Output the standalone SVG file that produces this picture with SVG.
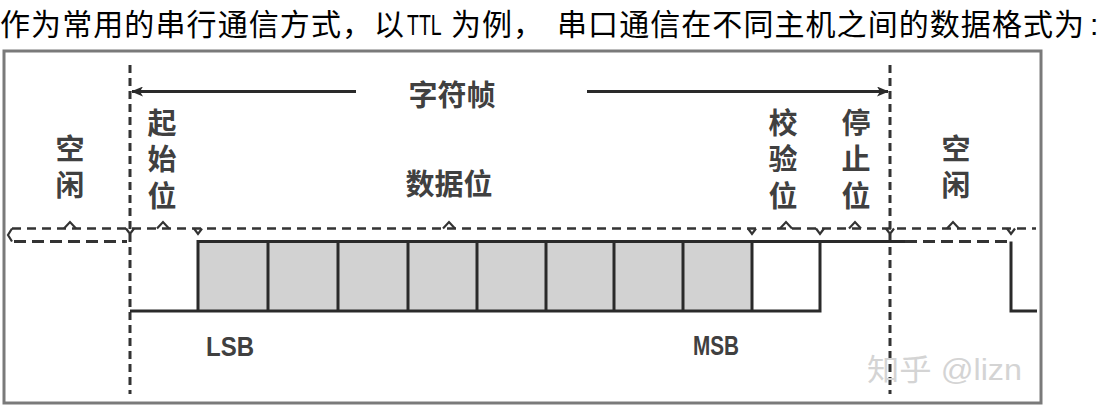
<svg xmlns="http://www.w3.org/2000/svg" width="1104" height="407" viewBox="0 0 1104 407">
  <style>
    .title { font-family: "Liberation Sans", "Noto Sans CJK SC", sans-serif; font-size: 30px; fill: #000; }
    .lbl { font-family: "Liberation Sans", "Noto Sans CJK SC", sans-serif; font-size: 29px; font-weight: 700; fill: #404040; text-anchor: middle; }
    .bit { font-family: "Liberation Sans", "Noto Sans CJK SC", sans-serif; font-size: 27px; font-weight: 700; fill: #404040; }
    .wm { font-family: "Liberation Sans", "Noto Sans CJK SC", sans-serif; font-size: 30px; fill: #d4d4d4; }
    .solid { fill: none; stroke: #2a2a2a; stroke-width: 3; }
    .dash { fill: none; stroke: #333; stroke-width: 2.6; stroke-dasharray: 9 6; }
    .dashL { fill: none; stroke: #333; stroke-width: 2.8; stroke-dasharray: 12 6; }
    .vdash { fill: none; stroke: #333; stroke-width: 3; stroke-dasharray: 8 5; }
    .tick { fill: none; stroke: #333; stroke-width: 2.2; }
    .box { fill: #d2d2d2; stroke: none; }
  </style>
  <defs>
    <marker id="arr" viewBox="0 0 12 10" refX="11" refY="5" markerWidth="12" markerHeight="10" markerUnits="userSpaceOnUse" orient="auto-start-reverse">
      <path d="M0,0 L12,5 L0,10 L3,5 Z" fill="#2a2a2a"/>
    </marker>
  </defs>

  <rect width="1104" height="407" fill="#fff"/>

  <g id="title">
    <text class="title" x="0" y="34.5" textLength="372" lengthAdjust="spacing">作为常用的串行通信方式，</text>
    <text class="title" x="374" y="34.5">以</text>
    <text class="title" transform="translate(407,35) scale(0.65,1)" x="0" y="0" font-size="31">TTL</text>
    <text class="title" x="451" y="34.5" textLength="92" lengthAdjust="spacing">为例，</text>
    <text class="title" x="557" y="34.5" textLength="527" lengthAdjust="spacing">串口通信在不同主机之间的数据格式为</text>
    <text class="title" x="1090" y="34.5">:</text>
  </g>

  <g id="frame">
    <rect x="4" y="51" width="1037" height="352" fill="none" stroke="#7a7a7a" stroke-width="3"/>
  </g>

  <g id="connectors">
    <line class="vdash" x1="130" y1="65" x2="130" y2="394"/>
    <line class="vdash" x1="890" y1="65" x2="890" y2="394"/>
    <line class="solid" x1="356" y1="91.5" x2="132" y2="91.5" marker-end="url(#arr)"/>
    <line class="solid" x1="587" y1="91.5" x2="888" y2="91.5" marker-end="url(#arr)"/>
    <line class="dash" x1="12" y1="228.5" x2="1036" y2="228.5"/>
    <path class="tick" d="M12,228.5 L8,235 L12,241.5"/>
    <line class="dashL" x1="14" y1="241.5" x2="127" y2="241.5"/>
    <line class="dashL" x1="905" y1="241.5" x2="1008" y2="241.5"/>
    <path class="tick" d="M64,228.5 L70,222 L76,228.5"/>
    <path class="tick" d="M157,228.5 L163,222 L169,228.5"/>
    <path class="tick" d="M443,228.5 L449,222 L455,228.5"/>
    <path class="tick" d="M780,228.5 L786,222 L792,228.5"/>
    <path class="tick" d="M849,228.5 L855,222 L861,228.5"/>
    <path class="tick" d="M947,228.5 L953,222 L959,228.5"/>
    <path class="tick" d="M126,228.5 L130,234 L134,228.5"/>
    <path class="tick" d="M194,228.5 L198,234 L202,228.5"/>
    <path class="tick" d="M748,228.5 L752,234 L756,228.5"/>
    <path class="tick" d="M816,228.5 L820,234 L824,228.5"/>
    <path class="tick" d="M886,228.5 L890,234 L894,228.5"/>
    <path class="tick" d="M1007,228.5 L1011,234 L1015,228.5"/>
  </g>

  <g id="signal">
    <rect class="box" x="198" y="241.5" width="554" height="69.5"/>
    <path class="solid" d="M130,311 H820 V241.5"/>
    <path class="solid" d="M198,311 V241.5 H905"/>
    <path class="solid" d="M1011,241.5 V311 H1037"/>
    <path class="solid" d="M268,241.5 V311 M338,241.5 V311 M408,241.5 V311 M477,241.5 V311 M546,241.5 V311 M614,241.5 V311 M683,241.5 V311 M752,241.5 V311"/>
  </g>

  <g id="label-frame">
    <text class="lbl" x="452" y="106">字符帧</text>
  </g>
  <g id="label-idle-left">
    <text class="lbl" x="70" y="160">空</text>
    <text class="lbl" x="70" y="196">闲</text>
  </g>
  <g id="label-start">
    <text class="lbl" x="162" y="134">起</text>
    <text class="lbl" x="162" y="170">始</text>
    <text class="lbl" x="162" y="207">位</text>
  </g>
  <g id="label-data">
    <text class="lbl" x="449" y="195">数据位</text>
  </g>
  <g id="label-parity">
    <text class="lbl" x="783" y="134">校</text>
    <text class="lbl" x="783" y="170">验</text>
    <text class="lbl" x="783" y="207">位</text>
  </g>
  <g id="label-stop">
    <text class="lbl" x="856" y="134">停</text>
    <text class="lbl" x="856" y="170">止</text>
    <text class="lbl" x="856" y="207">位</text>
  </g>
  <g id="label-idle-right">
    <text class="lbl" x="956" y="160">空</text>
    <text class="lbl" x="956" y="196">闲</text>
  </g>
  <g id="label-lsb">
    <text class="bit" x="206" y="356" textLength="48" lengthAdjust="spacingAndGlyphs">LSB</text>
  </g>
  <g id="label-msb">
    <text class="bit" x="693" y="355" textLength="46" lengthAdjust="spacingAndGlyphs">MSB</text>
  </g>
  <g id="watermark">
    <text class="wm" x="867" y="380" textLength="155" lengthAdjust="spacingAndGlyphs">知乎 @lizn</text>
  </g>
</svg>
